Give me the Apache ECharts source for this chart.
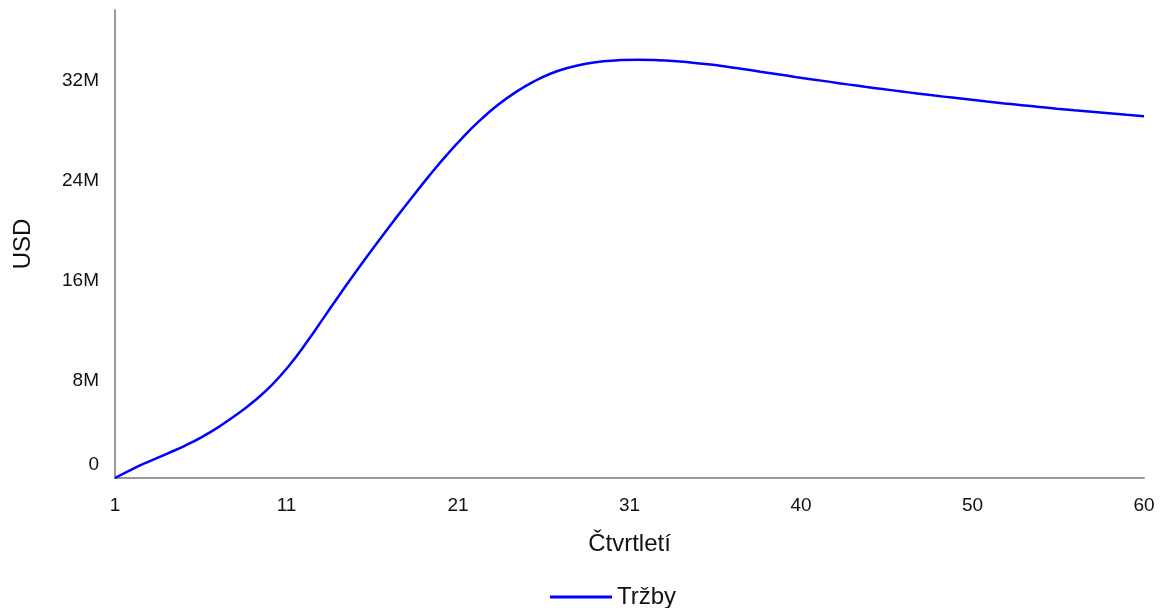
<!DOCTYPE html>
<html>
<head>
<meta charset="utf-8">
<script src="https://cdn.jsdelivr.net/npm/echarts@6/dist/echarts.min.js"></script>
<style>html,body{margin:0;padding:0;background:#fff}#c{width:1161px;height:608px}</style>
</head>
<body>
<div id="c"></div>
<script>
var quarters = [1,2,3,4,5,6,7,8,9,10,11,12,13,14,15,16,17,18,19,20,21,22,23,24,25,26,27,28,29,30,31,32,33,34,35,36,37,38,39,40,41,42,43,44,45,46,47,48,49,50,51,52,53,54,55,56,57,58,59,60];
// Tržby in millions USD
var sales = [0,0.72,1.36,1.96,2.58,3.30,4.14,5.10,6.19,7.47,9.03,10.89,12.91,14.93,16.89,18.79,20.64,22.44,24.19,25.85,27.38,28.75,29.94,30.94,31.76,32.41,32.87,33.19,33.39,33.49,33.52,33.49,33.42,33.30,33.15,32.97,32.77,32.56,32.35,32.14,31.94,31.74,31.54,31.35,31.17,30.99,30.81,30.64,30.48,30.32,30.16,30.01,29.87,29.73,29.59,29.46,29.34,29.22,29.10,28.99];
var seriesName = 'Tržby';
var xTitle = 'Čtvrtletí';
var yTitle = 'USD';
var yTicks = [0, 8, 16, 24, 32];

var font = 'Liberation Sans, Arial, sans-serif';
var chart = echarts.init(document.getElementById('c'));
chart.setOption({
  animation: false,
  grid: {left: 115, right: 17, top: 10, bottom: 130, containLabel: false},
  xAxis: {
    type: 'value', min: 0, max: quarters.length - 1, interval: (quarters.length - 1) / 6,
    name: xTitle, nameLocation: 'middle', nameGap: 54,
    nameTextStyle: {fontSize: 24, color: '#111', fontFamily: font},
    axisLine: {lineStyle: {color: '#999', width: 2}},
    axisTick: {show: false},
    splitLine: {show: false},
    axisLabel: {fontSize: 19, color: '#111', fontFamily: font, margin: 18,
      formatter: function (v) { return String(Math.round(quarters[0] + v)); }}
  },
  yAxis: {
    type: 'value', min: 0, max: 37.5, interval: yTicks[1] - yTicks[0],
    name: yTitle, nameLocation: 'middle', nameGap: 80,
    nameTextStyle: {fontSize: 24, color: '#111', fontFamily: font},
    axisLine: {show: true, lineStyle: {color: '#999', width: 2}},
    axisTick: {show: false},
    splitLine: {show: false},
    axisLabel: {fontSize: 19, color: '#111', fontFamily: font, margin: 16, showMaxLabel: false,
      formatter: function (v) { return v === 0 ? '{z|0}' : (yTicks.indexOf(v) >= 0 ? '{n|' + v + 'M}' : ''); },
      rich: {
        z: {fontSize: 19, color: '#111', fontFamily: font, padding: [0, 0, 26, 0]},
        n: {fontSize: 19, color: '#111', fontFamily: font, padding: [5, 0, 0, 0]}
      }
    }
  },
  legend: {
    left: 545, top: 580, icon: 'rect', itemWidth: 62, itemHeight: 3, itemGap: 20,
    textStyle: {fontSize: 24, color: '#111', fontFamily: font},
    data: [seriesName]
  },
  series: [{
    name: seriesName, type: 'line', smooth: true, showSymbol: false,
    lineStyle: {color: '#0000ff', width: 2.5}, itemStyle: {color: '#0000ff'},
    data: quarters.map(function (q, i) { return [q - quarters[0], sales[i]]; })
  }]
});
</script>
</body>
</html>
